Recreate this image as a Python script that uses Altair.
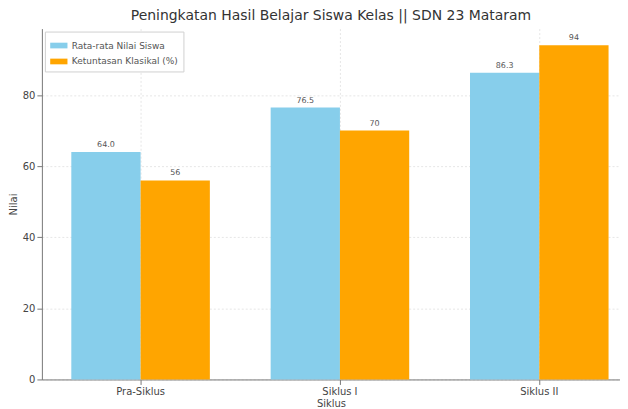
import altair as alt
import pandas as pd

categories = ["Pra-Siklus", "Siklus I", "Siklus II"]
rata_rata = [64.0, 76.5, 86.3]
ketuntasan = [56, 70, 94]
series_names = ["Rata-rata Nilai Siswa", "Ketuntasan Klasikal (%)"]
colors = ["#87CEEB", "#FFA500"]

rows = []
for c, v in zip(categories, rata_rata):
    rows.append({"Siklus": c, "Seri": series_names[0], "Nilai": v, "label": f"{v:.1f}"})
for c, v in zip(categories, ketuntasan):
    rows.append({"Siklus": c, "Seri": series_names[1], "Nilai": v, "label": f"{v}"})
df = pd.DataFrame(rows)

x = alt.X("Siklus:N", sort=categories, title="Siklus",
          scale=alt.Scale(paddingInner=0.305, paddingOuter=0.1025, align=0.72),
          axis=alt.Axis(labelAngle=0, bandPosition=0.5, grid=True, gridColor="#e6e6e6",
                        gridDash=[2, 2], labelColor="#444", titleColor="#444",
                        labelFont="DejaVu Sans", titleFont="DejaVu Sans",
                        labelFontSize=10, titleFontSize=10, titleFontWeight="normal",
                        domainColor="#777", tickColor="#777", titlePadding=2))
y = alt.Y("Nilai:Q", title="Nilai",
          scale=alt.Scale(domain=[0, 98.7], nice=False),
          axis=alt.Axis(values=[0, 20, 40, 60, 80], grid=True, gridColor="#e6e6e6",
                        gridDash=[2, 2], labelColor="#444", titleColor="#444",
                        labelFont="DejaVu Sans", titleFont="DejaVu Sans",
                        labelFontSize=10, titleFontSize=10, titleFontWeight="normal",
                        domainColor="#777", tickColor="#777", titlePadding=4))
xo = alt.XOffset("Seri:N", sort=series_names, scale=alt.Scale(paddingInner=0))
color = alt.Color("Seri:N", sort=series_names,
                  scale=alt.Scale(domain=series_names, range=colors),
                  legend=alt.Legend(title=None, orient="top-left",
                                    symbolType="M-1,-0.33L1,-0.33L1,0.33L-1,0.33Z",
                                    symbolSize=300, symbolStrokeWidth=0,
                                    labelFontSize=9, labelFont="DejaVu Sans",
                                    labelColor="#555", strokeColor="#d0d0d0",
                                    fillColor="white", padding=5, rowPadding=2,
                                    offset=3))

bars = alt.Chart(df).mark_bar().encode(x=x, xOffset=xo, y=y, color=color)
text = alt.Chart(df).mark_text(dy=-7, fontSize=8, font="DejaVu Sans", color="#555").encode(
    x=x, xOffset=xo, y=y, text="label:N")

chart = (bars + text).properties(
    width=580, height=352,
    title=alt.TitleParams("Peningkatan Hasil Belajar Siswa Kelas  ||  SDN 23 Mataram",
                          fontSize=14, font="DejaVu Sans", fontWeight="normal",
                          color="#333", offset=6),
    padding={"left": 0, "top": 0, "right": 0, "bottom": 0},
).configure_view(stroke=None)

chart.save("out.html", embed_options={"renderer": "svg", "actions": False})
